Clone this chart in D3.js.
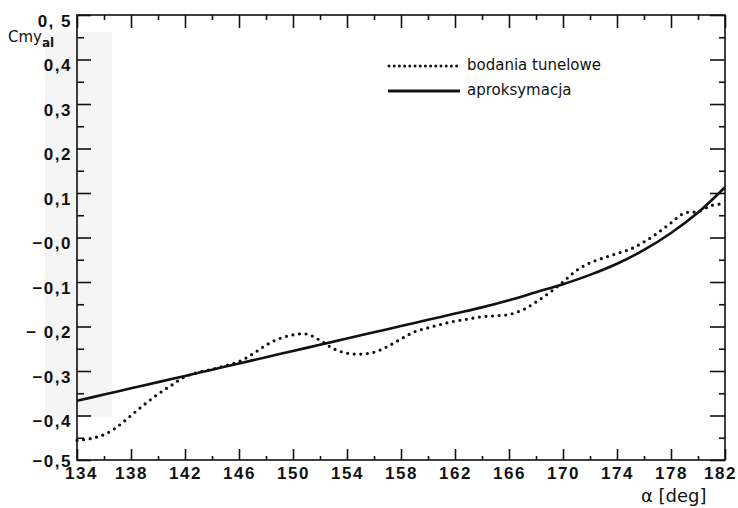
<!DOCTYPE html>
<html><head><meta charset="utf-8">
<script src="https://cdn.jsdelivr.net/npm/d3@7"></script>
<style>
html,body{margin:0;padding:0;background:#fff;}
svg{display:block;}
.tick text{font-family:"Liberation Sans Narrow","Liberation Sans",sans-serif;font-weight:bold;font-size:17px;fill:#111;letter-spacing:1.5px;}
</style></head>
<body>
<svg id="c" width="738" height="508"></svg>
<script>
// ---- data ----
const angles = [134,135,136,137,138,139,140,141,142,143,144,145,146,147,148,149,150,151,152,153,154,155,156,157,158,159,160,161,162,163,164,165,166,167,168,169,170,171,172,173,174,175,176,177,178,179,180,181,182];
const tunnelValues = [-0.456,-0.452,-0.443,-0.425,-0.400,-0.375,-0.352,-0.332,-0.313,-0.303,-0.296,-0.288,-0.279,-0.262,-0.242,-0.227,-0.219,-0.217,-0.231,-0.250,-0.260,-0.262,-0.258,-0.245,-0.228,-0.212,-0.203,-0.195,-0.188,-0.183,-0.178,-0.176,-0.173,-0.163,-0.145,-0.124,-0.100,-0.074,-0.057,-0.046,-0.036,-0.026,-0.010,0.010,0.033,0.055,0.058,0.072,0.076];
const approxAngles = [134,136,138,140,142,144,146,148,150,152,154,156,158,160,162,164,166,168,170,172,174,176,178,180,182];
const approxValues = [-0.367,-0.353,-0.339,-0.325,-0.311,-0.297,-0.283,-0.269,-0.255,-0.241,-0.227,-0.213,-0.199,-0.185,-0.171,-0.157,-0.141,-0.123,-0.105,-0.084,-0.059,-0.028,0.010,0.056,0.113];
const xMajorTicks = [134,138,142,146,150,154,158,162,166,170,174,178,182];
const xMinorTicks = [136,140,144,148,152,156,160,164,168,172,176,180];
const yMajorTicks = [-0.5,-0.4,-0.3,-0.2,-0.1,0,0.1,0.2,0.3,0.4,0.5];
const yMinorTicks = [-0.45,-0.35,-0.25,-0.15,-0.05,0.05,0.15,0.25,0.35,0.45];
const yTickLabels = ["\u22120,5","\u22120,4","\u22120,3","\u2212 0,2","\u22120,1","\u22120,0","0,1","0,2","0,3","0,4","0, 5"];
const seriesNames = ["bodania tunelowe","aproksymacja"];

const svg = d3.select("#c");
const x = d3.scaleLinear().domain([134,182]).range([77,725]);
const y = d3.scaleLinear().domain([-0.5,0.5]).range([460,15]);

// faint scan shading
svg.append("rect").attr("x",45).attr("y",32).attr("width",67).attr("height",385).attr("fill","#f5f5f5");

// frame
svg.append("rect").attr("x",x(134)).attr("y",y(0.5)).attr("width",x(182)-x(134)).attr("height",y(-0.5)-y(0.5))
  .attr("fill","none").attr("stroke","#111").attr("stroke-width",1.6);

function styleAxis(g){ g.select(".domain").remove(); g.selectAll(".tick line").attr("stroke","#111").attr("stroke-width",1.6); }

// bottom
svg.append("g").attr("transform",`translate(0,${y(-0.5)})`)
  .call(d3.axisBottom(x).tickValues(xMajorTicks).tickSize(-11).tickPadding(5).tickFormat(d3.format("d")))
  .call(styleAxis).call(g=>g.selectAll("text").attr("dy","0.8em")
     .attr("dx",d=>d===134?4:(d===182?-5:0)));
svg.append("g").attr("transform",`translate(0,${y(-0.5)})`)
  .call(d3.axisBottom(x).tickValues(xMinorTicks).tickSize(-4).tickFormat(""))
  .call(styleAxis);
// top
svg.append("g").attr("transform",`translate(0,${y(0.5)})`)
  .call(d3.axisTop(x).tickValues(xMajorTicks).tickSize(-13).tickFormat(""))
  .call(styleAxis);
svg.append("g").attr("transform",`translate(0,${y(0.5)})`)
  .call(d3.axisTop(x).tickValues(xMinorTicks).tickSize(-5).tickFormat(""))
  .call(styleAxis);
// left
svg.append("g").attr("transform",`translate(${x(134)},0)`)
  .call(d3.axisLeft(y).tickValues(yMajorTicks).tickSize(-14).tickPadding(5).tickFormat((d,i)=>yTickLabels[i]))
  .call(styleAxis).call(g=>g.selectAll("text").attr("dy",d=>d===-0.5?"0.4em":"0.65em"));
svg.append("g").attr("transform",`translate(${x(134)},0)`)
  .call(d3.axisLeft(y).tickValues(yMinorTicks).tickSize(-7).tickFormat(""))
  .call(styleAxis);
// right
svg.append("g").attr("transform",`translate(${x(182)},0)`)
  .call(d3.axisRight(y).tickValues(yMajorTicks).tickSize(-15).tickFormat(""))
  .call(styleAxis);
svg.append("g").attr("transform",`translate(${x(182)},0)`)
  .call(d3.axisRight(y).tickValues(yMinorTicks).tickSize(-6).tickFormat(""))
  .call(styleAxis);

// lines
const line = d3.line().x(d=>x(d[0])).y(d=>y(d[1])).curve(d3.curveCatmullRom.alpha(0.5));
svg.append("path").datum(angles.map((a,i)=>[a,tunnelValues[i]]))
  .attr("d",line).attr("fill","none").attr("stroke","#111").attr("stroke-width",3.2)
  .attr("stroke-linecap","round").attr("stroke-dasharray","0,6.6");
svg.append("path").datum(approxAngles.map((a,i)=>[a,approxValues[i]]))
  .attr("d",line).attr("fill","none").attr("stroke","#111").attr("stroke-width",2.6);

// legend
const lg = svg.append("g");
lg.append("line").attr("x1",389).attr("x2",458).attr("y1",66).attr("y2",66)
  .attr("stroke","#111").attr("stroke-width",3).attr("stroke-linecap","round").attr("stroke-dasharray","0,5.2");
lg.append("line").attr("x1",388).attr("x2",460).attr("y1",91).attr("y2",91)
  .attr("stroke","#111").attr("stroke-width",2.8);
lg.selectAll("text").data(seriesNames).join("text")
  .attr("x",467).attr("y",(d,i)=>70+i*25)
  .attr("font-family","DejaVu Sans, sans-serif").attr("font-size",15).attr("fill","#111")
  .text(d=>d);

// axis titles
const yt = svg.append("text").attr("x",8).attr("y",42)
  .attr("font-family","DejaVu Sans, sans-serif").attr("font-size",15).attr("fill","#111");
yt.append("tspan").text("Cmy");
yt.append("tspan").attr("font-size",12).attr("dy",5).attr("font-weight","bold").text("al");
svg.append("text").attr("x",641).attr("y",502)
  .attr("font-family","DejaVu Sans, sans-serif").attr("font-size",18).attr("fill","#111")
  .text("\u03B1 [deg]");
</script>
</body></html>
